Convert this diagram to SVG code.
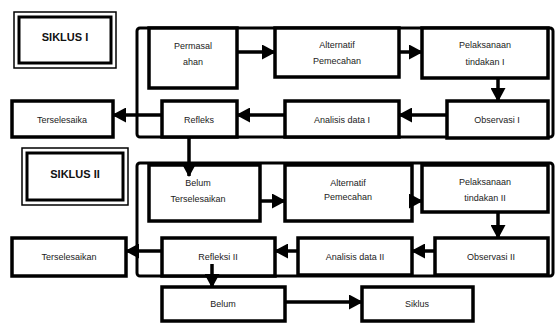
<svg xmlns="http://www.w3.org/2000/svg" width="557" height="323" viewBox="0 0 557 323">
<defs>
<style>
.box{fill:#fff;stroke:#000;stroke-width:3.5}
.frame{fill:none;stroke:#000;stroke-width:3}
.title-o{fill:#fff;stroke:#000;stroke-width:1.5}
.title-i{fill:none;stroke:#000;stroke-width:3}
.t{font-family:"Liberation Sans",Arial,sans-serif;font-size:9px;fill:#222;text-anchor:middle}
.tb{font-family:"Liberation Sans",Arial,sans-serif;font-size:11px;font-weight:bold;fill:#111;text-anchor:middle}
.c{stroke:#000;stroke-width:3.5;fill:none;marker-end:url(#ah)}
</style>
<marker id="ah" markerWidth="14" markerHeight="15" refX="13" refY="7.5" orient="auto" markerUnits="userSpaceOnUse">
<path d="M0,0 L14,7.5 L0,15 z" fill="#000"/>
</marker>
</defs>
<rect width="557" height="323" fill="#fff"/>
<g id="frames">
<rect class="frame" x="137" y="28" width="416" height="109" rx="3"/>
<rect class="frame" x="137" y="163" width="416" height="113" rx="3"/>
</g>
<g id="siklus1"><rect class="title-o" x="14" y="12" width="102" height="56"/><rect class="title-i" x="19" y="17" width="92" height="46"/><text class="tb" x="65" y="41">SIKLUS  I</text></g>
<g id="permasalahan"><rect class="box" x="149" y="28" width="88" height="60"/><text class="t" x="193" y="49">Permasal</text><text class="t" x="193" y="65">ahan</text></g>
<g id="alternatif1"><rect class="box" x="275" y="28" width="124" height="49"/><text class="t" x="337" y="48">Alternatif</text><text class="t" x="337" y="64">Pemecahan</text></g>
<g id="pelaksanaan1"><rect class="box" x="422" y="28" width="126" height="50"/><text class="t" x="485" y="48">Pelaksanaan</text><text class="t" x="485" y="65">tindakan I</text></g>
<g id="observasi1"><rect class="box" x="447" y="101" width="101" height="37"/><text class="t" x="497" y="123">Observasi I</text></g>
<g id="analisis1"><rect class="box" x="285" y="101" width="114" height="36"/><text class="t" x="342" y="123">Analisis data I</text></g>
<g id="refleks"><rect class="box" x="162" y="101" width="75" height="36"/><text class="t" x="199" y="123">Refleks</text></g>
<g id="terselesaika"><rect class="box" x="12" y="101" width="101" height="36"/><text class="t" x="62" y="123">Terselesaika</text></g>
<g id="siklus2"><rect class="title-o" x="22" y="148" width="106" height="57"/><rect class="title-i" x="27" y="153" width="96" height="47"/><text class="tb" x="75" y="178">SIKLUS II</text></g>
<g id="belumterselesaikan"><rect class="box" x="149" y="165" width="111" height="56"/><text class="t" x="198" y="186">Belum</text><text class="t" x="198" y="202">Terselesaikan</text></g>
<g id="alternatif2"><rect class="box" x="285" y="165" width="127" height="56"/><text class="t" x="348" y="186">Alternatif</text><text class="t" x="348" y="200">Pemecahan</text></g>
<g id="pelaksanaan2"><rect class="box" x="422" y="165" width="126" height="47"/><text class="t" x="485" y="185">Pelaksanaan</text><text class="t" x="485" y="201">tindakan II</text></g>
<g id="observasi2"><rect class="box" x="435" y="238" width="113" height="37"/><text class="t" x="491" y="260">Observasi II</text></g>
<g id="analisis2"><rect class="box" x="298" y="238" width="114" height="37"/><text class="t" x="355" y="260">Analisis data II</text></g>
<g id="refleksi2"><rect class="box" x="162" y="238" width="113" height="38"/><text class="t" x="218" y="260">Refleksi II</text></g>
<g id="terselesaikan"><rect class="box" x="12" y="238" width="114" height="38"/><text class="t" x="69" y="260">Terselesaikan</text></g>
<g id="belum"><rect class="box" x="162" y="287" width="123" height="34"/><text class="t" x="223" y="307">Belum</text></g>
<g id="siklus"><rect class="box" x="362" y="287" width="111" height="34"/><text class="t" x="417" y="307">Siklus</text></g>
<g id="connectors">
<line class="c" x1="237" y1="52" x2="275" y2="52"/>
<line class="c" x1="399" y1="52" x2="422" y2="52"/>
<line class="c" x1="498" y1="78" x2="498" y2="101"/>
<line class="c" x1="447" y1="115" x2="399" y2="115"/>
<line class="c" x1="285" y1="115" x2="237" y2="115"/>
<line class="c" x1="162" y1="115" x2="113" y2="115"/>
<line class="c" x1="189" y1="137" x2="189" y2="176"/>
<line class="c" x1="260" y1="201" x2="285" y2="201"/>
<line class="c" x1="412" y1="201" x2="422" y2="201"/>
<line class="c" x1="498" y1="212" x2="498" y2="238"/>
<line class="c" x1="435" y1="251" x2="412" y2="251"/>
<line class="c" x1="298" y1="251" x2="275" y2="251"/>
<line class="c" x1="162" y1="251" x2="126" y2="251"/>
<line class="c" x1="212" y1="264" x2="212" y2="287"/>
<line class="c" x1="285" y1="302" x2="362" y2="302"/>
</g>
</svg>
